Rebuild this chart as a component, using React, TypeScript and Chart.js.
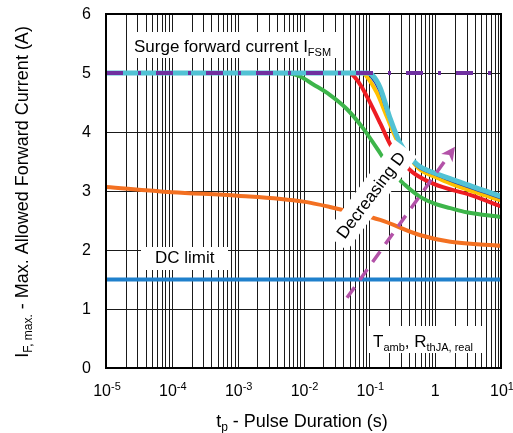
import React, { useEffect, useRef } from "react";
import { Chart, registerables } from "chart.js";
Chart.register(...registerables);

// ---- data ----
const surgeX = [1e-5, 10];
const surgeY = [5, 5];
const dcX = [1e-5, 10];
const dcY = [1.5, 1.5];
const orangeX = [1e-5, 1e-4, 1e-3, 1e-2, 0.025, 0.146, 0.6, 1.7, 10];
const orangeY = [3.07, 2.98, 2.92, 2.82, 2.73, 2.51, 2.25, 2.14, 2.07];
const greenX = [1e-5, 0.004, 0.0063, 0.0089, 0.0139, 0.0251, 0.0455, 0.0795, 0.146, 0.22, 0.35, 0.59, 1.0, 1.7, 3.0, 10];
const greenY = [5, 5, 4.99, 4.94, 4.81, 4.63, 4.39, 4.07, 3.64, 3.33, 3.1, 2.9, 2.78, 2.71, 2.64, 2.56];
const redX = [1e-5, 0.05, 0.06, 0.075, 0.093, 0.146, 0.21, 0.3, 0.45, 0.95, 3.5, 10];
const redY = [5, 5, 4.93, 4.78, 4.59, 4.15, 3.78, 3.52, 3.32, 3.12, 2.93, 2.74];
const yellowX = [1e-5, 0.08, 0.09, 0.131, 0.186, 0.264, 0.42, 0.59, 1.0, 1.69, 4, 10];
const yellowY = [5, 5, 4.95, 4.66, 4.25, 3.86, 3.55, 3.36, 3.24, 3.13, 2.98, 2.84];
const navyX = [1e-5, 0.09, 0.1, 0.14, 0.195, 0.28, 0.53, 1.0, 1.69, 4, 10];
const navyY = [5, 5, 4.96, 4.7, 4.25, 3.83, 3.41, 3.27, 3.17, 3.02, 2.87];
const cyanX = [1e-5, 0.095, 0.11, 0.146, 0.204, 0.293, 0.53, 1.0, 1.69, 4, 10];
const cyanY = [5, 5, 4.97, 4.75, 4.25, 3.81, 3.45, 3.3, 3.21, 3.06, 2.91];
const xTickExps = [-5, -4, -3, -2, -1, 0, 1];
const yTickValues = [0, 1, 2, 3, 4, 5, 6];

const FONT = '"Liberation Sans", Arial, sans-serif';

function pts(xs: number[], ys: number[]) {
  return xs.map((x, i) => ({ x, y: ys[i] }));
}

type Part = [string, number, number]; // text, size, dy

function richWidth(ctx: CanvasRenderingContext2D, parts: Part[]) {
  let w = 0;
  for (const [t, s] of parts) {
    ctx.font = `${s}px ${FONT}`;
    w += ctx.measureText(t).width;
  }
  return w;
}

function drawRich(ctx: CanvasRenderingContext2D, parts: Part[], x: number, y: number, align: "left" | "center" | "right") {
  const w = richWidth(ctx, parts);
  let cx = align === "left" ? x : align === "center" ? x - w / 2 : x - w;
  ctx.textAlign = "left";
  ctx.textBaseline = "alphabetic";
  for (const [t, s, dy] of parts) {
    ctx.font = `${s}px ${FONT}`;
    ctx.fillText(t, cx, y + dy);
    cx += ctx.measureText(t).width;
  }
}

const decoPlugin = {
  id: "deco",
  beforeDatasetsDraw(chart: any) {
    const ctx = chart.ctx as CanvasRenderingContext2D;
    const xs = chart.scales.x;
    const ys = chart.scales.y;
    const a = chart.chartArea;
    ctx.save();
    ctx.strokeStyle = "#1a1a1a";
    ctx.lineWidth = 1;
    ctx.beginPath();
    for (let d = -5; d <= 0; d++) {
      for (let k = 1; k <= 9; k++) {
        const px = Math.round(xs.getPixelForValue(k * Math.pow(10, d))) + 0.5;
        ctx.moveTo(px, a.top);
        ctx.lineTo(px, a.bottom);
      }
    }
    for (let v = 1; v <= 5; v++) {
      const py = Math.round(ys.getPixelForValue(v)) + 0.5;
      ctx.moveTo(a.left, py);
      ctx.lineTo(a.right, py);
    }
    ctx.stroke();
    ctx.restore();
  },
  afterDatasetsDraw(chart: any) {
    const ctx = chart.ctx as CanvasRenderingContext2D;
    const xs = chart.scales.x;
    const ys = chart.scales.y;
    const a = chart.chartArea;
    ctx.save();

    // white label boxes
    ctx.fillStyle = "#fff";
    ctx.fillRect(128, 32, 210, 26);
    ctx.fillRect(141, 247, 87, 23);
    ctx.fillRect(368, 326, 118, 27);

    ctx.fillStyle = "#000";
    drawRich(ctx, [["Surge forward current I", 17, 0], ["FSM", 11, 4]], 134, 52, "left");
    drawRich(ctx, [["DC limit", 17, 0]], 155, 263, "left");
    drawRich(ctx, [["T", 17, 0], ["amb", 11, 4], [", R", 17, 0], ["thJA, real", 11, 4]], 373, 347, "left");

    // Decreasing D rotated box
    const cx = xs.getPixelForValue(0.106);
    const cy = ys.getPixelForValue(2.93);
    const ang = (-53.3 * Math.PI) / 180;
    ctx.save();
    ctx.translate(cx, cy);
    ctx.rotate(ang);
    ctx.font = `17px ${FONT}`;
    const tw = ctx.measureText("Decreasing D").width;
    ctx.fillStyle = "#fff";
    ctx.fillRect(-tw / 2 - 7, -14, tw + 14, 28);
    ctx.fillStyle = "#000";
    ctx.textAlign = "center";
    ctx.textBaseline = "middle";
    ctx.fillText("Decreasing D", 0, 1);
    ctx.restore();

    // magenta dashed arrow
    const x0 = xs.getPixelForValue(0.0458), y0 = ys.getPixelForValue(1.19);
    const x1 = xs.getPixelForValue(2.0), y1 = ys.getPixelForValue(3.75);
    const dx = x1 - x0, dy = y1 - y0;
    const len = Math.hypot(dx, dy);
    const ux = dx / len, uy = dy / len;
    const headLen = 14, headW = 7;
    ctx.strokeStyle = "#B352A8";
    ctx.fillStyle = "#B352A8";
    ctx.lineWidth = 3.5;
    ctx.setLineDash([13, 9]);
    ctx.beginPath();
    ctx.moveTo(x0, y0);
    ctx.lineTo(x1 - ux * (headLen - 3), y1 - uy * (headLen - 3));
    ctx.stroke();
    ctx.setLineDash([]);
    ctx.beginPath();
    ctx.moveTo(x1, y1);
    ctx.lineTo(x1 - ux * headLen - uy * headW, y1 - uy * headLen + ux * headW);
    ctx.lineTo(x1 - ux * (headLen - 4), y1 - uy * (headLen - 4));
    ctx.lineTo(x1 - ux * headLen + uy * headW, y1 - uy * headLen - ux * headW);
    ctx.closePath();
    ctx.fill();

    // frame
    ctx.strokeStyle = "#000";
    ctx.lineWidth = 2;
    ctx.strokeRect(a.left, a.top, a.right - a.left, a.bottom - a.top);

    // y tick labels
    ctx.fillStyle = "#000";
    ctx.font = `16px ${FONT}`;
    ctx.textAlign = "right";
    ctx.textBaseline = "middle";
    for (const v of yTickValues) {
      ctx.fillText(String(v), 91, ys.getPixelForValue(v) + 0.5);
    }
    // x tick labels
    for (const e of xTickExps) {
      const px = xs.getPixelForValue(Math.pow(10, e));
      if (e === 0) drawRich(ctx, [["1", 16, 0]], px, 396, "center");
      else drawRich(ctx, [["10", 16, 0], [String(e), 11, -6]], px + 1, 396, "center");
    }
    // axis titles
    drawRich(ctx, [["t", 18, 0], ["p", 12, 4], [" - Pulse Duration (s)", 18, 0]], 302, 427, "center");
    ctx.save();
    ctx.translate(28, 192);
    ctx.rotate(-Math.PI / 2);
    drawRich(ctx, [["I", 18, 0], ["F, max.", 12, 4], [" - Max. Allowed Forward Current (A)", 18, 0]], 0, 0, "center");
    ctx.restore();

    ctx.restore();
  },
};

export default function App() {
  const ref = useRef<HTMLCanvasElement>(null);
  useEffect(() => {
    if (!ref.current) return;
    const mk = (label: string, xs: number[], ys: number[], color: string, width: number, extra: any = {}) => ({
      label,
      data: pts(xs, ys),
      borderColor: color,
      backgroundColor: color,
      borderWidth: width,
      pointRadius: 0,
      fill: false,
      ...extra,
    });
    const curve = { cubicInterpolationMode: "monotone" };
    const chart = new Chart(ref.current, {
      type: "line",
      data: {
        datasets: [
          mk("I_FSM", surgeX, surgeY, "#7030A0", 4, { borderDash: [17, 15, 3, 15], borderCapStyle: "butt" }),
          mk("cyan", cyanX, cyanY, "#52C2D4", 5, curve),
          mk("navy", navyX, navyY, "#2E3A94", 1.5, curve),
          mk("yellow", yellowX, yellowY, "#FFC000", 4, curve),
          mk("red", redX, redY, "#EE1D23", 4, curve),
          mk("green", greenX, greenY, "#3DB54A", 4, curve),
          mk("orange", orangeX, orangeY, "#F37021", 4, curve),
          mk("DC", dcX, dcY, "#1F80CC", 4),
        ] as any,
      },
      options: {
        animation: false,
        responsive: false,
        events: [],
        layout: { padding: { left: 106, right: 12, top: 14, bottom: 65 } },
        plugins: { legend: { display: false }, tooltip: { enabled: false } },
        scales: {
          x: { type: "logarithmic", min: 1e-5, max: 10, display: false },
          y: { type: "linear", min: 0, max: 6, display: false },
        },
      },
      plugins: [decoPlugin],
    });
    return () => chart.destroy();
  }, []);
  return (
    <div style={{ position: "fixed", left: 0, top: 0, width: 513, height: 433, background: "#fff" }}>
      <canvas ref={ref} width={513} height={433} />
    </div>
  );
}
